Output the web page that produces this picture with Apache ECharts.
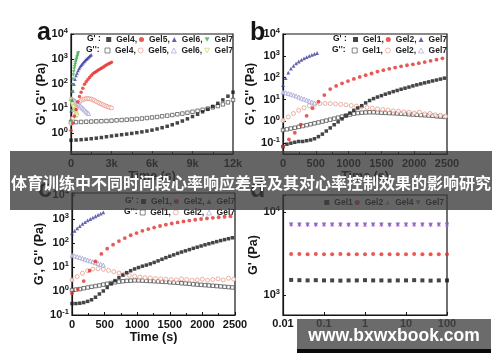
<!DOCTYPE html>
<html><head><meta charset="utf-8">
<script src="https://cdn.jsdelivr.net/npm/echarts@6/dist/echarts.min.js"></script>
<style>html,body{margin:0;padding:0;background:#fff}#c{width:500px;height:362px}</style>
</head><body><div id="c"></div>
<script>
// ---------- Panel a (time, s) ----------
const tA4 = [0,375,750,1125,1500,1875,2250,2625,3000,3375,3750,4125,4500,4875,5250,5625,6000,6375,6750,7125,7500,7875,8250,8625,9000,9375,9750,10125,10500,10875,11250,11625,12000];
const aGel4G1 = [0.52,0.53,0.55,0.57,0.6,0.63,0.67,0.72,0.77,0.82,0.87,0.92,0.98,1.05,1.13,1.22,1.33,1.48,1.67,1.9,2.2,2.6,3.1,3.8,4.7,5.8,7.3,9.2,12,16,22,31,45];
const aGel4G2 = [2.8,2.8,2.85,2.9,2.95,3.0,3.05,3.1,3.2,3.3,3.4,3.5,3.6,3.75,3.9,4.1,4.3,4.5,4.8,5.1,5.4,5.8,6.2,6.7,7.3,8.0,8.8,9.8,11,12.5,14.5,17.5,22];
const tA5 = [0,125,250,375,500,625,750,875,1000,1125,1250,1375,1500,1625,1750,1875,2000,2125,2250,2375,2500,2625,2750,2875,3000];
const aGel5G1 = [1.3,2.5,4.8,9,18,30,45,65,95,120,145,175,210,250,280,310,345,380,420,460,510,560,610,660,720];
const aGel5G2 = [2.5,4,6.5,10,14,18,21,23,24,25,25,24.5,23.5,22,20.5,19,17.5,16,15,14,13,12.2,11.5,11,10.5];
const tA6a = [0,75,150,225,300,375,450,525,600,675,750,825,900,975,1050,1125,1200,1275,1350,1425,1500];
const aGel6G1 = [8,22,50,95,150,210,270,340,410,480,550,620,700,780,860,950,1040,1140,1240,1350,1460];
const tA6b = [0,100,200,300,400,500,600,700,800,900,1000,1100,1200,1300];
const aGel6G2 = [25,24,22,20,18,16,14,12.5,11,9.8,8.7,7.7,6.8,6.2];
const tA7a = [0,30,60,90,120,150,180,210,240,270,300,330,360,390,420,450,480,510,540];
const aGel7G1 = [3,8,20,45,90,150,220,300,390,480,580,690,800,920,1050,1200,1380,1560,1750];
const tA7b = [0,40,80,120,160,200,240,280,320,360,400,440];
const aGel7G2 = [22,19,16.5,14,12,10.5,9,8,7,6.2,5.5,5];

// ---------- shared time grids for panels b and c ----------
const t60 = [0,60,120,180,240,300,360,420,480,540,600,660,720,780,840,900,960,1020,1080,1140,1200,1260,1320,1380,1440,1500,1560,1620,1680,1740,1800,1860,1920,1980,2040,2100,2160,2220,2280,2340,2400,2460];
const t90 = [0,90,180,270,360,450,540,630,720,810,900,990,1080,1170,1260,1350,1440,1530,1620,1710,1800,1890,1980,2070,2160,2250,2340,2430];
const t80 = [0,80,160,240,320,400,480,560,640,720,800,880,960,1040,1120,1200,1280,1360,1440,1520,1600,1680,1760,1840,1920,2000,2080,2160,2240,2320,2400,2480];
const t40a = [0,40,80,120,160,200,240,280,320,360,400,440,480,520];
const t40b = [0,40,80,120,160,200,240,280,320,360,400,440,480];

// ---------- Panel b ----------
const bGel1G1 = [0.07,0.09,0.1,0.11,0.12,0.12,0.13,0.14,0.16,0.2,0.26,0.36,0.5,0.7,0.95,1.3,1.8,2.4,3.2,4.1,5.2,7,9,11,13,15,17.5,20,23,26,29.5,33,37,42,47,52,58,64,71,78,86,95];
const bGel1G2 = [0.4,0.43,0.47,0.51,0.56,0.61,0.67,0.74,0.81,0.89,0.98,1.08,1.2,1.33,1.48,1.65,1.85,2.05,2.25,2.4,2.5,2.55,2.6,2.6,2.55,2.5,2.45,2.4,2.35,2.3,2.25,2.2,2.1,2.05,2.0,1.95,1.9,1.85,1.8,1.7,1.65,1.6];
const bGel2G1 = [0.07,0.15,0.3,0.7,1.8,4,8,16,30,42,55,70,88,108,130,155,190,220,255,290,330,370,410,460,520,590,670,770];
const bGel2G2 = [1.1,1.6,2.3,3.2,4.2,5.2,6.0,6.5,6.6,6.5,6.3,6.0,5.7,5.3,5.0,4.6,4.3,4.0,3.7,3.5,3.3,3.0,2.9,2.7,2.6,2.4,2.6,2.2,2.3,2.0,1.9,1.7];
const bGel7G1 = [46,95,170,260,350,450,550,650,760,870,990,1110,1230,1350];
const bGel7G2 = [22,20.5,19,17.5,16,14.5,13,11.5,10.5,9.5,8.5,7.7,7];

// ---------- Panel c ----------
const cGel1G1 = [0.3,0.3,0.31,0.33,0.37,0.43,0.55,0.75,1.0,1.4,2.0,2.7,3.6,4.6,5.8,7.0,8.3,9.5,10.8,12,13.5,15.5,18,21,24.5,28,32,37,42,47,53,60,67,75,84,93,103,114,126,138,151,165];
const cGel1G2 = [1.1,1.15,1.2,1.3,1.4,1.5,1.6,1.7,1.85,2.0,2.15,2.3,2.45,2.55,2.65,2.7,2.75,2.75,2.7,2.65,2.6,2.55,2.5,2.45,2.4,2.3,2.25,2.2,2.1,2.05,2.0,1.9,1.85,1.8,1.75,1.7,1.65,1.6,1.55,1.5,1.45,1.4];
const cGel2G1 = [0.8,1.2,2.6,7,17,35,58,85,120,160,210,260,320,380,440,510,580,650,720,790,860,930,1000,1060,1120,1180,1240,1300];
const cGel2G2 = [2.9,4,5.5,7,8.2,8.5,8,7.2,6.4,5.6,5.0,4.5,4.1,3.8,3.6,3.5,3.3,3.2,3.1,3.0,2.9,3.2,3.0,2.8,2.9,3.1,2.8,3.0,3.2,2.9,3.4,3.1];
const cGel7G1 = [250,320,410,500,620,740,870,1000,1150,1300,1480,1680,1900];
const cGel7G2 = [31,29,27,25,23,21,19.5,18,16.5,15,14,13,12];

// ---------- Panel d (frequency, Hz) ----------
const freqD = [0.0158,0.0251,0.0398,0.0631,0.1,0.158,0.251,0.398,0.631,1,1.58,2.51,3.98,6.31,10,15.8,25.1,39.8,63.1,100];
const dGel1 = [1520,1510,1500,1510,1500,1500,1490,1500,1500,1510,1500,1500,1490,1500,1500,1510,1500,1490,1500,1500];
const dGel2 = [3120,3110,3100,3120,3100,3100,3110,3100,3090,3100,3110,3100,3100,3090,3100,3110,3100,3100,3090,3100];
const dGel4 = [7150,7120,7100,7150,7100,7100,7120,7100,7100,7080,7100,7120,7100,7100,7080,7100,7100,7120,7100,7100];
const dGel7 = [7000,7020,7000,6980,7000,7010,7000,6990,7000,7000,7020,7000,6980,7000,7010,7000,7000,6990,7000,7010];

// ---------- text ----------
const titleText = '体育训练中不同时间段心率响应差异及其对心率控制效果的影响研究';
const watermarkText = 'www.bxwxbook.com';
const yNameG = "G', G'' (Pa)";
const yNameD = "G' (Pa)";
const xNameT = 'Time (s)';
const xLabelsD = ['0.01','0.1','1','10','100'];

const FF = 'Liberation Sans, Arial, sans-serif';
const K = '#151515';
const zip = (t, v) => v.map((y, i) => [t[i], y]);

const DOWN = 'path://M0,0L10,0L5,9Z';
const C = {
  black: '#161616', blackO: '#444', red: '#e2302c', redO: '#e6917f',
  blue: '#3d3d9c', blueO: '#9a9ad2', green: '#3fb34f', greenO: '#c2d266',
  pink: '#d98ad8', purple: '#7a55b5'
};

function S(name, gi, data, symbol, color, hollow, size) {
  return {
    type: 'scatter', name, xAxisIndex: gi, yAxisIndex: gi, data,
    symbol, symbolSize: size || 4,
    itemStyle: hollow ? {color: '#fff', borderColor: color, borderWidth: 0.9}
                      : {color: color, borderWidth: 0},
    z: hollow ? 2 : 3
  };
}

const labelMap = {};
function reg(id, txt) { labelMap[id] = txt; return id; }

const series = [
  // panel a
  S(reg('a1o','Gel4,'), 0, zip(tA4, aGel4G2), 'rect', C.blackO, true, 3.5),
  S(reg('a2o','Gel5,'), 0, zip(tA5, aGel5G2), 'circle', C.redO, true, 4),
  S(reg('a3o','Gel6,'), 0, zip(tA6b, aGel6G2), 'triangle', C.blueO, true, 4),
  S(reg('a4o','Gel7'), 0, zip(tA7b, aGel7G2), DOWN, C.greenO, true, 4),
  S(reg('a1','Gel4,'), 0, zip(tA4, aGel4G1), 'rect', C.black, false, 3.5),
  S(reg('a2','Gel5,'), 0, zip(tA5, aGel5G1), 'circle', C.red, false, 3.5),
  S(reg('a3','Gel6,'), 0, zip(tA6a, aGel6G1), 'triangle', C.blue, false, 3.5),
  S(reg('a4','Gel7'), 0, zip(tA7a, aGel7G1), DOWN, C.green, false, 3.5),
  // panel b
  S(reg('b1o','Gel1,'), 1, zip(t60, bGel1G2), 'rect', C.blackO, true, 3.5),
  S(reg('b2o','Gel2,'), 1, zip(t80, bGel2G2), 'circle', C.redO, true, 4),
  S(reg('b3o','Gel7'), 1, zip(t40b, bGel7G2), 'triangle', C.blueO, true, 4),
  S(reg('b1','Gel1,'), 1, zip(t60, bGel1G1), 'rect', C.black, false, 3.5),
  S(reg('b2','Gel2,'), 1, zip(t90, bGel2G1), 'circle', C.red, false, 3.8),
  S(reg('b3','Gel7'), 1, zip(t40a, bGel7G1), 'triangle', C.blue, false, 3.8),
  // panel c
  S(reg('c1o','Gel1,'), 2, zip(t60, cGel1G2), 'rect', C.blackO, true, 3.5),
  S(reg('c2o','Gel2,'), 2, zip(t80, cGel2G2), 'circle', C.redO, true, 4),
  S(reg('c3o','Gel7'), 2, zip(t40b, cGel7G2), 'triangle', C.blueO, true, 4),
  S(reg('c1','Gel1,'), 2, zip(t60, cGel1G1), 'rect', C.black, false, 3.5),
  S(reg('c2','Gel2,'), 2, zip(t90, cGel2G1), 'circle', C.red, false, 3.8),
  S(reg('c3','Gel7'), 2, zip(t40b, cGel7G1), 'triangle', C.blue, false, 3.8),
  // panel d
  S(reg('d1','Gel1'), 3, zip(freqD, dGel1), 'rect', C.black, false, 4),
  S(reg('d2','Gel2'), 3, zip(freqD, dGel2), 'circle', C.red, false, 4),
  S(reg('d3','Gel4'), 3, zip(freqD, dGel4), 'triangle', C.pink, false, 4.5),
  S(reg('d4','Gel7'), 3, zip(freqD, dGel7), DOWN, C.purple, false, 4.5)
];

const grids = [
  {left: 71, top: 34, width: 162, height: 120},
  {left: 283, top: 34, width: 164, height: 120},
  {left: 72, top: 193, width: 163, height: 122},
  {left: 283, top: 195, width: 164, height: 120}
].map(g => Object.assign(g, {show: true, borderColor: K, borderWidth: 1.2, backgroundColor: 'transparent'}));

const axLine = {show: true, lineStyle: {color: K, width: 1.2}};
const tick = {show: true, inside: true, length: 3, lineStyle: {color: K, width: 1}};
const lblStyle = {fontFamily: FF, fontWeight: 'bold', fontSize: 11, color: K};

function xTime(gi, max, interval, fmt) {
  return {
    type: 'value', gridIndex: gi, min: 0, max, interval,
    axisLine: axLine, axisTick: tick, splitLine: {show: false},
    minorTick: {show: true, splitNumber: 2, length: 2, lineStyle: {color: K}},
    axisLabel: Object.assign({margin: 4, formatter: fmt}, lblStyle),
    name: xNameT, nameLocation: 'middle', nameGap: 16,
    nameTextStyle: {fontFamily: FF, fontWeight: 'bold', fontSize: 12.5, color: K}
  };
}
const supRich = {
  b: {fontFamily: FF, fontWeight: 'bold', fontSize: 11, color: K, lineHeight: 14},
  s: {fontFamily: FF, fontWeight: 'bold', fontSize: 7.5, color: K, verticalAlign: 'top', lineHeight: 8}
};
function pow10(v) {
  const e = Math.log10(v), r = Math.round(e);
  if (Math.abs(e - r) > 1e-6) return '';
  return '{b|10}{s|' + r + '}';
}
function yLog(gi, min, max, name, gap) {
  return {
    type: 'log', logBase: 10, gridIndex: gi, min, max,
    axisLine: axLine, axisTick: tick, splitLine: {show: false},
    axisLabel: {margin: 3, formatter: pow10, rich: supRich},
    name, nameLocation: 'middle', nameGap: gap, nameRotate: 90,
    nameTextStyle: {fontFamily: FF, fontWeight: 'bold', fontSize: 12.5, color: K}
  };
}

const xAxis = [
  xTime(0, 12000, 3000, v => v === 0 ? '0' : (v / 1000) + 'k'),
  xTime(1, 2500, 500, v => String(v)),
  xTime(2, 2500, 500, v => String(v)),
  {
    type: 'log', logBase: 10, gridIndex: 3, min: 0.01, max: 100,
    axisLine: axLine, axisTick: tick, splitLine: {show: false},
    axisLabel: Object.assign({margin: 3, formatter: v => xLabelsD[Math.round(Math.log10(v)) + 2] || ''}, lblStyle)
  }
];
const yAxis = [
  yLog(0, 0.145, 10000, yNameG, 21),
  yLog(1, 0.032, 10000, yNameG, 19),
  yLog(2, 0.1, 12100, yNameG, 19),
  yLog(3, 575, 16000, yNameD, 18)
];

function legend(names, right, top) {
  return {
    data: names, right, top, orient: 'horizontal', padding: 0,
    itemWidth: 5, itemHeight: 5, itemGap: 2, selectedMode: false,
    itemStyle: {borderWidth: 0.8},
    textStyle: {fontFamily: FF, fontWeight: 'bold', fontSize: 8.5, color: '#222'},
    formatter: n => labelMap[n]
  };
}
const legends = [
  legend(['a1','a2','a3','a4'], 267, 35),
  legend(['a1o','a2o','a3o','a4o'], 267, 46),
  legend(['b1','b2','b3'], 53, 35),
  legend(['b1o','b2o','b3o'], 53, 46),
  legend(['c1','c2','c3'], 265, 197),
  legend(['c1o','c2o','c3o'], 265, 208),
  legend(['d1','d2','d3','d4'], 56, 198)
];

function txt(x, y, text, size, opts) {
  return Object.assign({type: 'text', x, y, z: 50, style: Object.assign({
    text, fill: K, font: 'bold ' + size + 'px ' + FF, textAlign: 'left', textVerticalAlign: 'middle'
  }, opts || {})});
}

const graphic = [
  txt(37, 33, 'a', 25), txt(250, 33, 'b', 25), txt(38, 190, 'c', 25), txt(250, 190, 'd', 25),
  txt(87, 39, "G' :", 8.5), txt(86, 50, "G'':", 8.5),
  txt(333, 39, "G' :", 8.5), txt(332, 50, "G'':", 8.5),
  txt(125, 201, "G' :", 8.5), txt(124, 212, "G'':", 8.5),
  {type: 'rect', z: 100, shape: {x: 10, y: 151, width: 482, height: 59}, style: {fill: 'rgba(58,58,58,0.78)'}},
  {type: 'text', z: 101, x: 251, y: 183, style: {text: titleText, fill: '#fff',
    font: 'bold 16px "Noto Sans CJK SC", sans-serif', textAlign: 'center', textVerticalAlign: 'middle'}},
  {type: 'rect', z: 100, shape: {x: 297, y: 319, width: 194, height: 30}, style: {fill: 'rgba(70,70,70,0.8)'}},
  {type: 'rect', z: 100, shape: {x: 297, y: 349, width: 194, height: 4}, style: {fill: '#0a0a0a'}},
  {type: 'text', z: 101, x: 394, y: 336, style: {text: watermarkText, fill: '#fff',
    font: 'bold 17.5px ' + FF, textAlign: 'center', textVerticalAlign: 'middle'}}
];

const chart = echarts.init(document.getElementById('c'), null, {renderer: 'canvas'});
chart.setOption({
  animation: false, backgroundColor: '#fff',
  grid: grids, xAxis, yAxis, legend: legends, series, graphic
});
</script></body></html>
